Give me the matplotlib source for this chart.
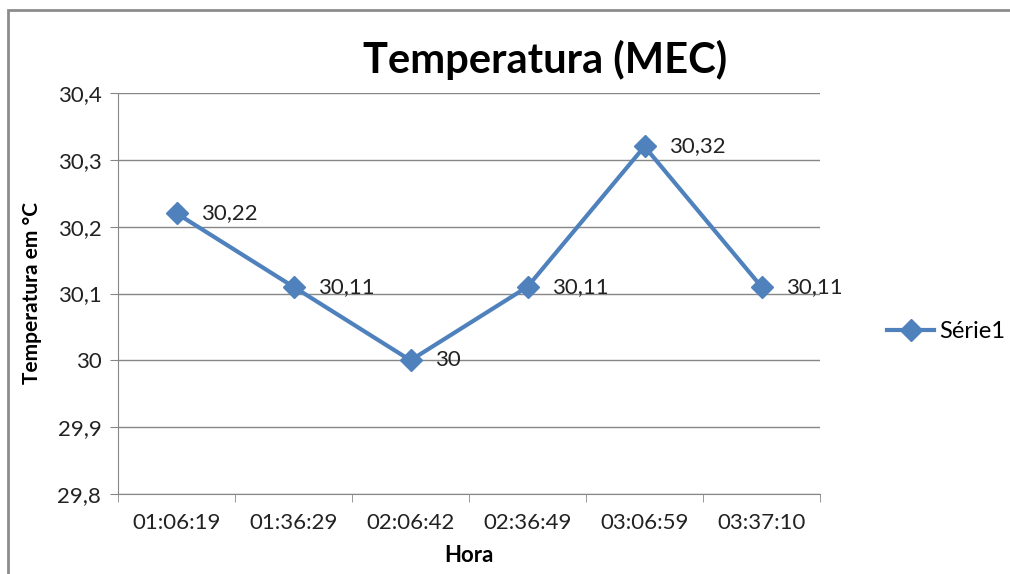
import numpy as np
import matplotlib.pyplot as plt
from matplotlib.patches import Rectangle

horas = ["01:06:19", "01:36:29", "02:06:42", "02:36:49", "03:06:59", "03:37:10"]
temperatura = [30.22, 30.11, 30.00, 30.11, 30.32, 30.11]
rotulos = ["30,22", "30,11", "30", "30,11", "30,32", "30,11"]
yticks = [29.8, 29.9, 30.0, 30.1, 30.2, 30.3, 30.4]
ylabels = ["29,8", "29,9", "30", "30,1", "30,2", "30,3", "30,4"]

plt.rcParams['font.family'] = ['Lato', 'DejaVu Sans']
azul = '#4F81BD'
cinza = '#868686'

fig = plt.figure(figsize=(10.1, 5.74), dpi=100)
ax = fig.add_axes([118/1010, 1-494/574, 702/1010, 401/574])

x = np.arange(len(horas))
ax.plot(x, temperatura, color=azul, lw=3, marker='D', ms=11, label='Série1')
for xi, yi, t in zip(x, temperatura, rotulos):
    ax.annotate(t, (xi, yi), xytext=(18, 0), textcoords='offset points',
                va='center', ha='left', fontsize=16, color='#222222')

ax.set_xlim(-0.5, 5.5)
ax.set_ylim(29.8, 30.4)
ax.set_yticks(yticks)
ax.set_yticklabels(ylabels)
ax.set_xticks(x)
ax.set_xticklabels(horas)
ax.set_xticks(np.arange(-0.5, 6, 1), minor=True)
ax.tick_params(axis='x', which='major', length=0, pad=14, labelsize=16, labelcolor='#222222')
ax.tick_params(axis='x', which='minor', length=6, color=cinza)
ax.tick_params(axis='y', length=6, color=cinza, labelsize=16, pad=6, labelcolor='#222222')
ax.grid(axis='y', color=cinza, lw=1)
ax.set_axisbelow(True)
for s in ['top', 'right']:
    ax.spines[s].set_visible(False)
for s in ['left', 'bottom']:
    ax.spines[s].set_color(cinza)

ax.set_xlabel('Hora', fontsize=16, fontweight='bold', labelpad=8)
ax.set_ylabel('Temperatura em °C', fontsize=15, fontweight='bold', labelpad=11)
fig.text(545/1010, 1-60/574, 'Temperatura (MEC)', fontsize=30, fontweight='bold',
         ha='center', va='center')

fig.legend(loc='center left', bbox_to_anchor=(866/1010, 1-332/574), frameon=False,
           fontsize=17, handlelength=2.0, handletextpad=0.2)

fig.patches.append(Rectangle((8/1010, -0.1), 1.1, 1-10/574 + 0.1, transform=fig.transFigure,
                             fill=False, edgecolor='#8c8c8c', lw=2))

fig.savefig('out.png', dpi=100)
